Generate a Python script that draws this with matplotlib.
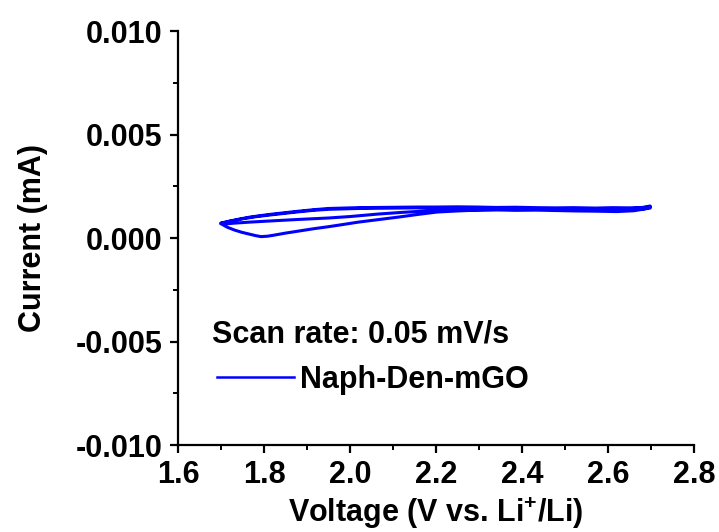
import numpy as np
import matplotlib
matplotlib.use('Agg')
import matplotlib.pyplot as plt
from matplotlib.ticker import MultipleLocator, FormatStrFormatter

plt.rcParams['font.family'] = ['Liberation Sans', 'DejaVu Sans']
plt.rcParams['font.weight'] = 'bold'
plt.rcParams['mathtext.fontset'] = 'custom'
plt.rcParams['mathtext.bf'] = 'Liberation Sans:bold'
plt.rcParams['mathtext.rm'] = 'Liberation Sans:bold'

# CV trace, two cycles between 1.7 and 2.7 V (V, mA)
v_anodic1 = [1.701, 1.715, 1.731, 1.748, 1.766, 1.780, 1.793, 1.808, 1.823, 1.850,
             1.881, 1.915, 1.950, 1.985, 2.019, 2.065, 2.111, 2.157, 2.203, 2.250,
             2.295, 2.340, 2.385, 2.433, 2.480, 2.525, 2.571, 2.620, 2.660, 2.698]
i_anodic1 = [0.00068, 0.00052, 0.00039, 0.00028, 0.00019, 0.00012, 0.00007, 0.00009, 0.00014, 0.00024,
             0.00034, 0.00045, 0.00055, 0.00066, 0.00077, 0.00089, 0.00101, 0.00114, 0.00126, 0.00131,
             0.00135, 0.00136, 0.00134, 0.00135, 0.00133, 0.00131, 0.00130, 0.00128, 0.00132, 0.00145]

v_cathodic1 = [2.698, 2.680, 2.650, 2.610, 2.571, 2.520, 2.480, 2.433, 2.385, 2.340,
               2.295, 2.250, 2.200, 2.157, 2.110, 2.065, 2.019, 1.985, 1.950, 1.915,
               1.881, 1.846, 1.812, 1.790, 1.766, 1.743, 1.720, 1.699]
i_cathodic1 = [0.00155, 0.00148, 0.00146, 0.00147, 0.00145, 0.00147, 0.00146, 0.00147, 0.00149, 0.00148,
               0.00150, 0.00151, 0.00150, 0.00150, 0.00149, 0.00148, 0.00147, 0.00145, 0.00143, 0.00137,
               0.00130, 0.00122, 0.00114, 0.00108, 0.00101, 0.00092, 0.00082, 0.00072]

v_anodic2 = [1.699, 1.708, 1.730, 1.766, 1.800, 1.835, 1.880, 1.950, 2.000, 2.065,
             2.120, 2.160, 2.203, 2.270, 2.341, 2.410, 2.479, 2.550, 2.617, 2.660,
             2.685, 2.698]
i_anodic2 = [0.00072, 0.00068, 0.00072, 0.00077, 0.00081, 0.00085, 0.00090, 0.00097, 0.00104, 0.00116,
             0.00124, 0.00129, 0.00133, 0.00136, 0.00138, 0.00139, 0.00140, 0.00139, 0.00138, 0.00137,
             0.00142, 0.00150]

v_cathodic2 = [2.698, 2.660, 2.617, 2.571, 2.520, 2.479, 2.433, 2.385, 2.341, 2.295,
               2.250, 2.203, 2.157, 2.110, 2.065, 2.019, 1.985, 1.950, 1.915, 1.881,
               1.846, 1.812, 1.780, 1.750, 1.720, 1.702]
i_cathodic2 = [0.00150, 0.00143, 0.00141, 0.00142, 0.00140, 0.00142, 0.00141, 0.00143, 0.00142, 0.00144,
               0.00145, 0.00145, 0.00146, 0.00145, 0.00144, 0.00143, 0.00141, 0.00139, 0.00134, 0.00127,
               0.00119, 0.00111, 0.00103, 0.00093, 0.00081, 0.00072]

voltage = np.concatenate([v_anodic1, v_cathodic1, v_anodic2, v_cathodic2])
current = np.concatenate([i_anodic1, i_cathodic1, i_anodic2, i_cathodic2])

fig = plt.figure(figsize=(7.19, 5.32), dpi=100)
ax = fig.add_axes([0.2476, 0.1635, 0.7177, 0.778])

ax.plot(voltage, current, color='#0000ff', linewidth=2.2, label='Naph-Den-mGO')

ax.set_xlim(1.6, 2.8)
ax.set_ylim(-0.010, 0.010)
ax.xaxis.set_major_locator(MultipleLocator(0.2))
ax.xaxis.set_minor_locator(MultipleLocator(0.1))
ax.yaxis.set_major_locator(MultipleLocator(0.005))
ax.yaxis.set_minor_locator(MultipleLocator(0.0025))
ax.xaxis.set_major_formatter(FormatStrFormatter('%.1f'))
ax.yaxis.set_major_formatter(FormatStrFormatter('%.3f'))

for side in ['top', 'right']:
    ax.spines[side].set_visible(False)
for side in ['left', 'bottom']:
    ax.spines[side].set_linewidth(1.6)

ax.tick_params(which='major', direction='out', length=6, width=1.6, labelsize=22, pad=5)
ax.tick_params(which='minor', direction='out', length=3.5, width=1.4)

ax.set_xlabel('Voltage (V vs. Li$^{+}$/Li)', fontsize=22, fontweight='bold', labelpad=4)
ax.set_ylabel('Current (mA)', fontsize=22, fontweight='bold', labelpad=20)

ax.text(0.065, 0.267, 'Scan rate: 0.05 mV/s', transform=ax.transAxes,
        fontsize=22, fontweight='bold', va='center', ha='left')
leg = ax.legend(loc='center left', bbox_to_anchor=(0.023, 0.157), frameon=False,
                prop={'size': 22, 'weight': 'bold'}, handlelength=2.5, handletextpad=0.2)
leg.get_lines()[0].set_linewidth(1.8)

fig.savefig('out.png', dpi=100)
